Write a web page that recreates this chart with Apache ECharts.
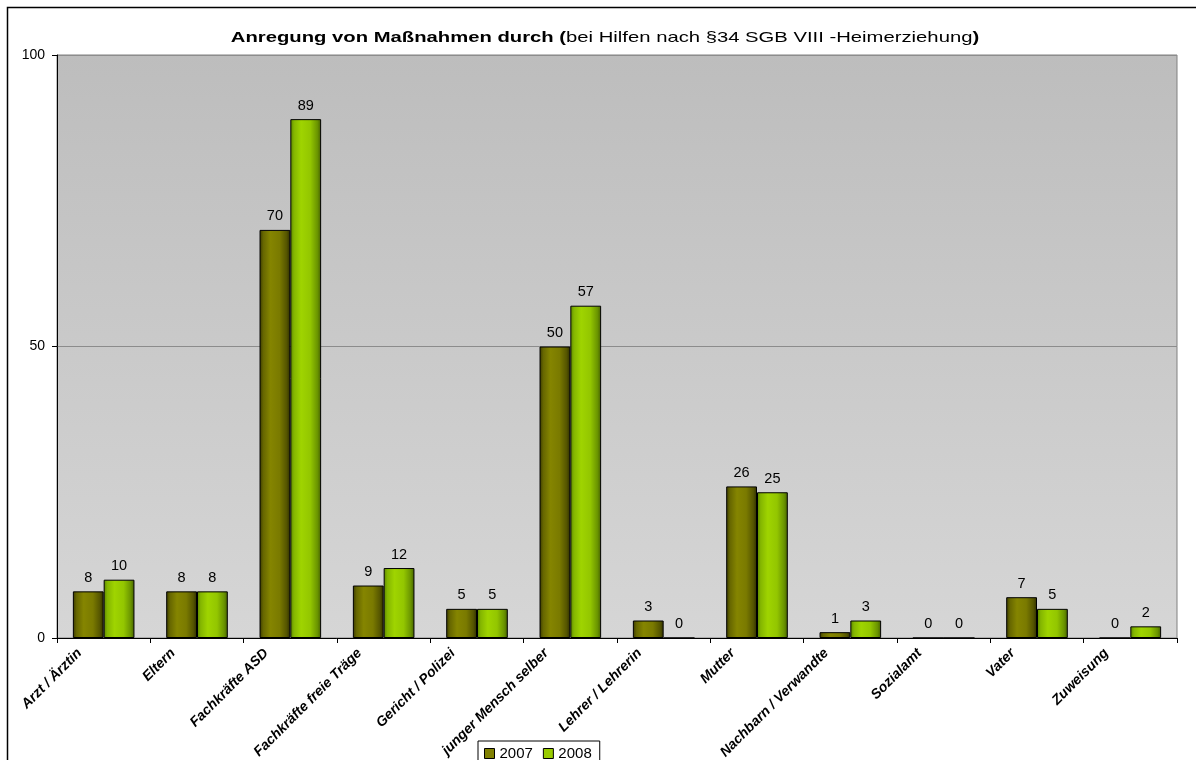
<!DOCTYPE html>
<html>
<head>
<meta charset="utf-8">
<script src="https://cdn.jsdelivr.net/npm/echarts@6/dist/echarts.min.js"></script>
<style>
  html, body { margin: 0; padding: 0; background: #fff; }
  #chart { width: 1196px; height: 760px; }
</style>
</head>
<body>
<div id="chart"></div>
<script>
// Sources that suggested a placement, per year
const categories = [
  'Arzt / Ärztin', 'Eltern', 'Fachkräfte ASD', 'Fachkräfte freie Träge',
  'Gericht / Polizei', 'junger Mensch selber', 'Lehrer / Lehrerin', 'Mutter',
  'Nachbarn / Verwandte', 'Sozialamt', 'Vater', 'Zuweisung'
];
const values2007 = [8, 8, 70, 9, 5, 50, 3, 26, 1, 0, 7, 0];
const values2008 = [10, 8, 89, 12, 5, 57, 0, 25, 3, 0, 5, 2];
const yTicks = [0, 50, 100];

const FONT = '"Liberation Sans", Arial, sans-serif';

function barGradient(stops) {
  return new echarts.graphic.LinearGradient(0, 0, 1, 0,
    stops.map(([offset, color]) => ({ offset, color })));
}

const olive = barGradient([
  [0, '#3a3a00'], [0.12, '#666600'], [0.35, '#858500'],
  [0.65, '#7a7a00'], [0.88, '#555500'], [1, '#2e2e00']
]);
const lime = barGradient([
  [0, '#5a8400'], [0.12, '#84b600'], [0.35, '#9fd400'],
  [0.65, '#93c600'], [0.88, '#6a9400'], [1, '#456000']
]);

const chart = echarts.init(document.getElementById('chart'), null, { renderer: 'canvas' });

const valueLabel = {
  show: true,
  position: 'top',
  distance: 6,
  color: '#000',
  fontFamily: FONT,
  fontSize: 14.5
};

chart.setOption({
  backgroundColor: '#fff',
  animation: false,
  graphic: [
    {
      // outer frame of the chart
      type: 'rect',
      shape: { x: 7.5, y: 7.5, width: 1200, height: 800 },
      style: { fill: 'none', stroke: '#000', lineWidth: 1.5 },
      z: 100
    },
    {
      // plot area background, darker towards the top
      type: 'rect',
      shape: { x: 57, y: 55, width: 1120, height: 583 },
      style: {
        fill: new echarts.graphic.LinearGradient(0, 0, 0, 1, [
          { offset: 0, color: '#bdbdbd' },
          { offset: 1, color: '#d6d6d6' }
        ]),
        stroke: '#808080',
        lineWidth: 1
      },
      z: -10
    },
    {
      // chart title, bold lead-in with a plain-text qualifier, set a little wide
      type: 'text',
      x: 605,
      y: 38,
      scaleX: 1.35,
      scaleY: 1,
      style: {
        text: '{b|Anregung von Maßnahmen durch (}{n|bei Hilfen nach §34 SGB VIII -Heimerziehung}{b|)}',
        align: 'center',
        verticalAlign: 'middle',
        rich: {
          b: { fontFamily: FONT, fontSize: 15, fontWeight: 'bold', fill: '#000' },
          n: { fontFamily: FONT, fontSize: 15, fontWeight: 'normal', fill: '#000' }
        }
      },
      z: 50
    }
  ],
  legend: {
    left: 478,
    top: 741,
    orient: 'horizontal',
    backgroundColor: '#fff',
    borderColor: '#000',
    borderWidth: 1,
    padding: [5, 8, 8, 6],
    itemWidth: 10,
    itemHeight: 10,
    itemGap: 10,
    textStyle: { fontFamily: FONT, fontSize: 15, color: '#000' },
    data: [
      { name: '2007', icon: 'rect', itemStyle: { color: '#808000', borderColor: '#000', borderWidth: 1 } },
      { name: '2008', icon: 'rect', itemStyle: { color: '#99cc00', borderColor: '#000', borderWidth: 1 } }
    ]
  },
  grid: { left: 57, right: 19, top: 55, bottom: 122, containLabel: false, outerBoundsMode: 'none' },
  xAxis: {
    type: 'category',
    data: categories,
    axisLine: { lineStyle: { color: '#000', width: 1 } },
    axisTick: { show: true, length: 5, lineStyle: { color: '#000' } },
    axisLabel: {
      interval: 0,
      rotate: 45,
      margin: -11,
      padding: [0, 34, 0, 0],
      color: '#000',
      fontFamily: FONT,
      fontSize: 14,
      fontWeight: 'bold',
      fontStyle: 'italic'
    }
  },
  yAxis: {
    type: 'value',
    min: 0,
    max: 100,
    interval: 50,
    axisLine: { show: true, lineStyle: { color: '#000', width: 1 } },
    axisTick: { show: true, length: 5, lineStyle: { color: '#000' } },
    axisLabel: {
      margin: 12,
      color: '#000',
      fontFamily: FONT,
      fontSize: 14,
      formatter: v => (yTicks.includes(v) ? String(v) : '')
    },
    splitLine: { show: true, lineStyle: { color: '#8c8c8c', width: 1 } }
  },
  series: [
    {
      name: '2007',
      type: 'bar',
      data: values2007,
      barGap: '0%',
      barCategoryGap: '34%',
      itemStyle: { color: olive, borderColor: '#000', borderWidth: 1 },
      label: valueLabel
    },
    {
      name: '2008',
      type: 'bar',
      data: values2008,
      barGap: '0%',
      barCategoryGap: '34%',
      itemStyle: { color: lime, borderColor: '#000', borderWidth: 1 },
      label: valueLabel
    }
  ]
});
</script>
</body>
</html>
